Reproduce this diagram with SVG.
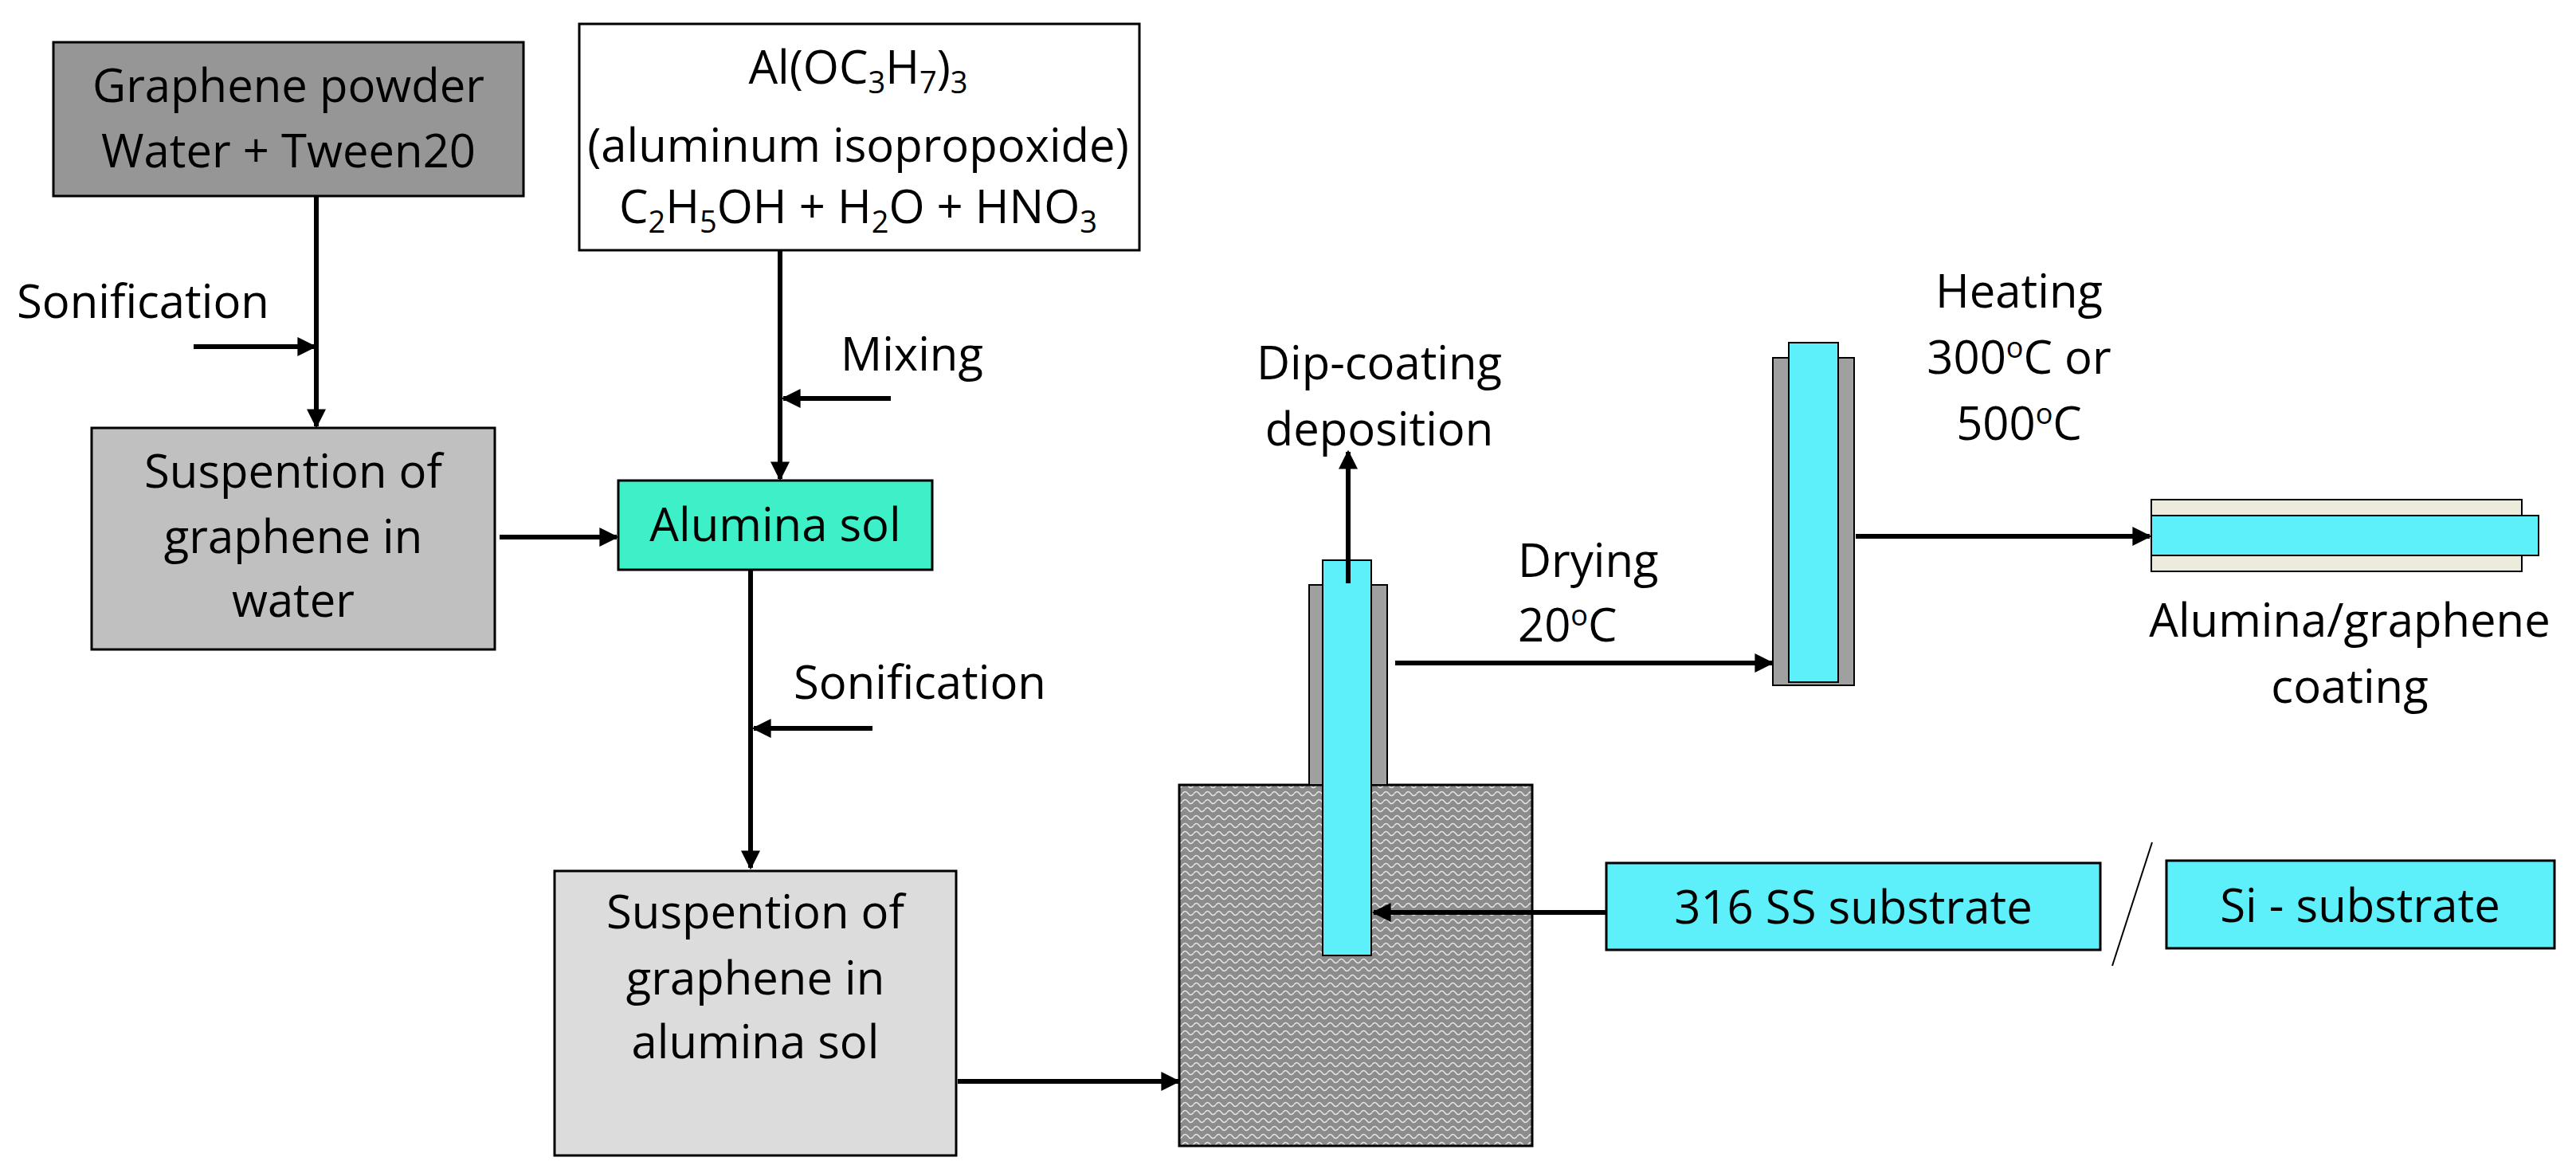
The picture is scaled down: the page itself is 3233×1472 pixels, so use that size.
<svg xmlns="http://www.w3.org/2000/svg" width="3233" height="1472" viewBox="0 0 3233 1472">
<style>
text{font-family:"Open Sans","Liberation Sans",sans-serif;font-size:58px;fill:#000;text-anchor:middle}
.l{text-anchor:start}
.b{stroke:#000;stroke-width:3}
.c{stroke:#000;stroke-width:6;fill:none;marker-end:url(#ah)}
</style>
<defs>
<marker id="ah" viewBox="0 0 10 10" refX="9" refY="5" markerWidth="4" markerHeight="4" orient="auto" markerUnits="strokeWidth"><path d="M0,0L10,5L0,10z" fill="#000"/></marker>
<pattern id="wave" width="14" height="10" patternUnits="userSpaceOnUse"><rect width="14" height="10" fill="#8c8c8c"/><path d="M0,6 Q3.5,1 7,6 T14,6" stroke="#e6e6e6" stroke-width="1.5" fill="none"/></pattern>
</defs>
<rect width="3233" height="1472" fill="#fff"/>
<g id="graphene-powder"><rect class="b" x="67" y="53" width="590" height="193" fill="#969696"/><text x="362" y="128">Graphene powder</text><text x="362" y="210">Water + Tween20</text></g>
<g id="al-precursor"><rect class="b" x="727" y="30" width="703" height="284" fill="#fff"/>
<text x="1077" y="105">Al(OC<tspan font-size="38" dy="12">3</tspan><tspan dy="-12">H</tspan><tspan font-size="38" dy="12">7</tspan><tspan dy="-12">)</tspan><tspan font-size="38" dy="12">3</tspan></text>
<text x="1077" y="203" font-size="50">(aluminum isopropoxide)</text>
<text x="1077" y="280">C<tspan font-size="38" dy="12">2</tspan><tspan dy="-12">H</tspan><tspan font-size="38" dy="12">5</tspan><tspan dy="-12">OH + H</tspan><tspan font-size="38" dy="12">2</tspan><tspan dy="-12">O + HNO</tspan><tspan font-size="38" dy="12">3</tspan></text></g>
<g id="susp-water"><rect class="b" x="115" y="537" width="506" height="278" fill="#c0c0c0"/><text x="368" y="612">Suspention of</text><text x="368" y="694">graphene in</text><text x="368" y="774">water</text></g>
<g id="alumina-sol"><rect class="b" x="776" y="603" width="394" height="112" fill="#3ef0c8"/><text x="973" y="679">Alumina sol</text></g>
<g id="susp-sol"><rect class="b" x="696" y="1093" width="504" height="357" fill="#dcdcdc"/><text x="948" y="1165">Suspention of</text><text x="948" y="1248">graphene in</text><text x="948" y="1328">alumina sol</text></g>
<g id="dip-tank"><rect class="b" x="1480" y="985" width="443" height="453" fill="url(#wave)"/><rect x="1643" y="734" width="98" height="251" fill="#a0a0a0" stroke="#000" stroke-width="2"/><rect x="1660" y="703" width="61" height="496" fill="#5ef0fa" stroke="#000" stroke-width="2"/></g>
<g id="dried-sample"><rect x="2225" y="449" width="102" height="411" fill="#a0a0a0" stroke="#000" stroke-width="2"/><rect x="2245" y="430" width="62" height="426" fill="#5ef0fa" stroke="#000" stroke-width="2"/></g>
<g id="coating"><rect x="2700" y="627" width="465" height="90" fill="#ecebdc" stroke="#000" stroke-width="2"/><rect x="2700" y="647" width="486" height="50" fill="#5ef0fa" stroke="#000" stroke-width="2"/><text x="2949" y="799">Alumina/graphene</text><text x="2949" y="882">coating</text></g>
<g id="ss-substrate"><rect class="b" x="2016" y="1083" width="620" height="109" fill="#5ef0fa"/><text x="2326" y="1159">316 SS substrate</text></g>
<g id="si-substrate"><rect class="b" x="2719" y="1080" width="487" height="110" fill="#5ef0fa"/><text x="2962" y="1157">Si - substrate</text></g>
<g id="labels">
<text class="l" x="21" y="399">Sonification</text>
<text class="l" x="1055" y="465">Mixing</text>
<text class="l" x="996" y="877">Sonification</text>
<text x="1731" y="476">Dip-coating</text><text x="1731" y="559">deposition</text>
<text class="l" x="1905" y="724">Drying</text><text class="l" x="1905" y="805">20<tspan font-size="36" dy="-20">o</tspan><tspan dy="20">C</tspan></text>
<text x="2534" y="386">Heating</text><text x="2534" y="469">300<tspan font-size="36" dy="-20">o</tspan><tspan dy="20">C or</tspan></text><text x="2534" y="552">500<tspan font-size="36" dy="-20">o</tspan><tspan dy="20">C</tspan></text>
</g>
<g id="connectors">
<path class="c" d="M397,246V535"/>
<path class="c" d="M243,435H395"/>
<path class="c" d="M979,314V601"/>
<path class="c" d="M1118,500H983"/>
<path class="c" d="M627,674H774"/>
<path class="c" d="M942,715V1089"/>
<path class="c" d="M1095,914H946"/>
<path class="c" d="M1202,1357H1479"/>
<path class="c" d="M1692,732V567"/>
<path class="c" d="M1751,832H2224"/>
<path class="c" d="M2329,673H2698"/>
<path class="c" d="M2016,1145H1724"/>
<path d="M2701,1057L2651,1212" stroke="#000" stroke-width="2"/>
</g>
</svg>
